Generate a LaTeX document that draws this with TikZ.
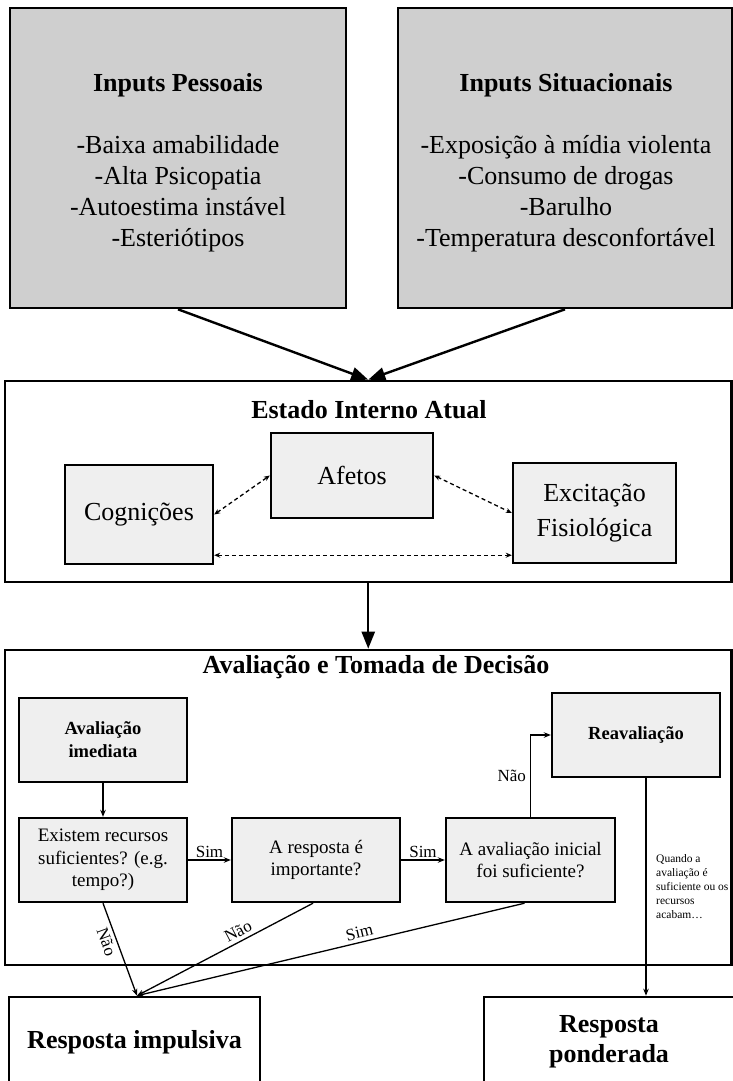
\documentclass[tikz,border=0pt]{standalone}
\usepackage{fontspec}
\setmainfont{Liberation Serif}
\usetikzlibrary{arrows.meta}
\definecolor{topgray}{RGB}{207,207,207}
\definecolor{boxgray}{RGB}{239,239,239}
\begin{document}
\begin{tikzpicture}[x=1pt,y=-1pt,
  bigfont/.style={font=\fontsize{26}{31}\selectfont},
  midfont/.style={font=\fontsize{19}{22.5}\selectfont},
  labfont/.style={font=\fontsize{17}{20}\selectfont},
  topbox/.style={draw, line width=2.6pt, fill=topgray, inner sep=0pt},
  frame/.style={draw, line width=2.6pt, inner sep=0pt},
  inbox/.style={draw, line width=2.4pt, fill=boxgray, align=center, inner sep=0pt},
  outbox/.style={draw, line width=2.6pt, fill=white, align=center, inner sep=0pt, bigfont},
  txt/.style={align=center, inner sep=0pt},
  bigarrow/.style={line width=2.4pt, -{Triangle[length=17pt,width=13pt]}},
  thinarrow/.style={line width=1.3pt, -{Stealth[length=7pt,width=5.5pt]}},
  dasharrow/.style={line width=1.3pt, dash pattern=on 4pt off 3pt, {Stealth[length=6pt,width=5pt]}-{Stealth[length=6pt,width=5pt]}},
  lbl/.style={labfont, inner sep=2pt},
  slbl/.style={labfont, inner sep=3.5pt, sloped},
]
\useasboundingbox (0,0) rectangle (733,1081);

% top input boxes
\node[topbox, minimum width=336pt, minimum height=300pt] (pess) at (178,158) {};
\node[txt, bigfont] (pesstxt) at (178,163) {\textbf{Inputs Pessoais}\\[31pt]-Baixa amabilidade\\-Alta Psicopatia\\-Autoestima instável\\-Esteriótipos};
\node[topbox, minimum width=334pt, minimum height=300pt] (sit) at (565,158) {};
\node[txt, bigfont] (sittxt) at (566,163) {\textbf{Inputs Situacionais}\\[31pt]-Exposição à mídia violenta\\-Consumo de drogas\\-Barulho\\-Temperatura desconfortável};

% internal state frame
\node[frame, minimum width=726.5pt, minimum height=201pt] (estado) at (368.25,481.5) {};
\node[txt, bigfont] (esttitle) at (369,410) {\textbf{Estado Interno Atual}};
\node[inbox, bigfont, minimum width=148pt, minimum height=99pt] (cog) at (139,514.5) {Cognições};
\node[inbox, bigfont, minimum width=162pt, minimum height=85pt] (afe) at (352,475.5) {Afetos};
\node[inbox, font=\fontsize{26}{35}\selectfont, minimum width=163pt, minimum height=100pt] (exc) at (594.5,513) {Excitação\\Fisiológica};

% decision frame
\node[frame, minimum width=726.5pt, minimum height=315pt] (aval) at (368.25,807.5) {};
\node[txt, bigfont] (avaltitle) at (376,667) {\textbf{Avaliação e Tomada de Decisão}};
\node[inbox, font=\fontsize{18.5}{23}\selectfont\bfseries, minimum width=168pt, minimum height=84pt] (imed) at (103,740) {Avaliação\\imediata};
\node[inbox, font=\fontsize{18.5}{23}\selectfont\bfseries, minimum width=168pt, minimum height=84pt] (reav) at (636,735) {Reavaliação};
\node[inbox, midfont, minimum width=168pt, minimum height=84pt] (exist) at (103,860) {Existem recursos\\suficientes? (e.g.\\tempo?)};
\node[inbox, midfont, minimum width=168pt, minimum height=84pt] (resp) at (316,860) {A resposta é\\importante?};
\node[inbox, midfont, minimum width=169pt, minimum height=84pt] (inic) at (530.5,860) {A avaliação inicial\\foi suficiente?};
\node[align=left, anchor=north west, inner sep=0pt, font=\fontsize{11.5}{14}\selectfont] (quando) at (656,854) {Quando a\\avaliação é\\suficiente ou os\\recursos\\acabam…};

% responses
\node[outbox, minimum width=251pt, minimum height=90pt] (impuls) at (134.5,1042) {\textbf{Resposta impulsiva}};
\node[outbox, minimum width=250pt, minimum height=90pt, font=\fontsize{26}{30}\selectfont] (ponder) at (609,1042) {\textbf{Resposta}\\\textbf{ponderada}};

% connectors
\draw[bigarrow] (pess.south) -- (estado.north);
\draw[bigarrow] (sit.south) -- (estado.north);
\draw[bigarrow] (estado.south) -- (aval.north);

\draw[dasharrow] (cog.east) -- (afe.west);
\draw[dasharrow] (afe.east) -- (exc.west);
\draw[dasharrow] ([yshift=10pt]cog.south east) -- ([yshift=10pt]cog.south east -| exc.west);

\draw[thinarrow] (imed) -- (exist);
\draw[thinarrow] (exist) -- node[lbl, above]{Sim} (resp);
\draw[thinarrow] (resp) -- node[lbl, above]{Sim} (inic);
\draw[thinarrow] (inic.north) |- node[lbl, left, pos=0.25, inner sep=4pt]{Não} (reav.west);
\draw[thinarrow] ([xshift=10pt]reav.south) -- ([xshift=10pt]reav.south |- ponder.north);
\draw[thinarrow] (exist.south) -- node[slbl, below, pos=0.38]{Não} ([xshift=2.5pt]impuls.north);
\draw[thinarrow] ([xshift=-3pt]resp.south) -- node[slbl, above, pos=0.4]{Não} ([xshift=2.5pt]impuls.north);
\draw[thinarrow] ([xshift=-6pt]inic.south) -- node[slbl, above, pos=0.42]{Sim} ([xshift=2.5pt]impuls.north);
\end{tikzpicture}
\end{document}
